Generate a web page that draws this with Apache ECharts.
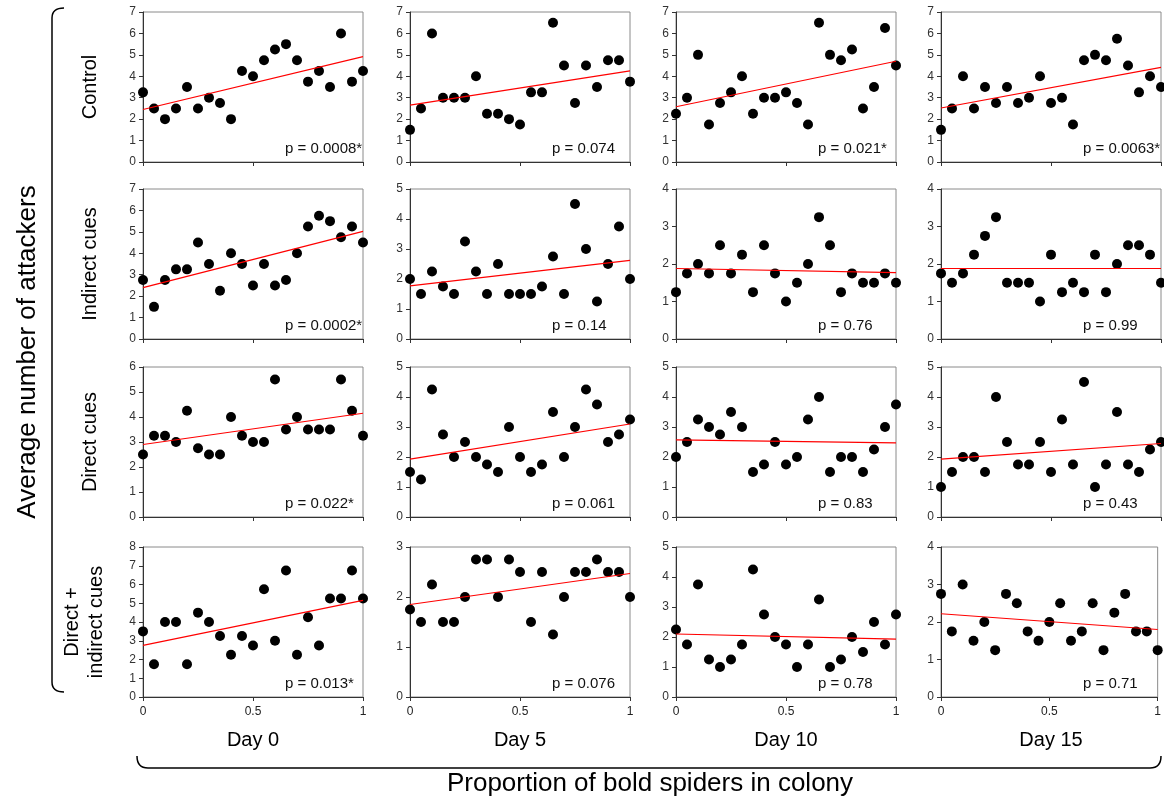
<!DOCTYPE html>
<html>
<head>
<meta charset="utf-8">
<script src="https://cdn.jsdelivr.net/npm/echarts@6/dist/echarts.min.js"></script>
<style>
  html, body { margin: 0; background: #fff; }
  #chart { width: 1164px; height: 804px; }
</style>
</head>
<body>
<div id="chart"></div>
<script>
// proportion of bold spiders (x) for every colony
const proportions = [0, 0.05, 0.1, 0.15, 0.2, 0.25, 0.3, 0.35, 0.4, 0.45, 0.5, 0.55, 0.6, 0.65, 0.7, 0.75, 0.8, 0.85, 0.9, 0.95, 1]
const days = ['Day 0', 'Day 5', 'Day 10', 'Day 15']
const treatments = ['Control', 'Indirect cues', 'Direct cues', 'Direct +\nindirect cues']
const xTicks = ['0', '0.5', '1']

// average number of attackers, one array per panel
const ctrl0 = [3.25, 2.5, 2, 2.5, 3.5, 2.5, 3, 2.75, 2, 4.25, 4, 4.75, 5.25, 5.5, 4.75, 3.75, 4.25, 3.5, 6, 3.75, 4.25]
const ctrl5 = [1.5, 2.5, 6, 3, 3, 3, 4, 2.25, 2.25, 2, 1.75, 3.25, 3.25, 6.5, 4.5, 2.75, 4.5, 3.5, 4.75, 4.75, 3.75]
const ctrl10 = [2.25, 3, 5, 1.75, 2.75, 3.25, 4, 2.25, 3, 3, 3.25, 2.75, 1.75, 6.5, 5, 4.75, 5.25, 2.5, 3.5, 6.25, 4.5]
const ctrl15 = [1.5, 2.5, 4, 2.5, 3.5, 2.75, 3.5, 2.75, 3, 4, 2.75, 3, 1.75, 4.75, 5, 4.75, 5.75, 4.5, 3.25, 4, 3.5]
const ind0 = [2.75, 1.5, 2.75, 3.25, 3.25, 4.5, 3.5, 2.25, 4, 3.5, 2.5, 3.5, 2.5, 2.75, 4, 5.25, 5.75, 5.5, 4.75, 5.25, 4.5]
const ind5 = [2, 1.5, 2.25, 1.75, 1.5, 3.25, 2.25, 1.5, 2.5, 1.5, 1.5, 1.5, 1.75, 2.75, 1.5, 4.5, 3, 1.25, 2.5, 3.75, 2]
const ind10 = [1.25, 1.75, 2, 1.75, 2.5, 1.75, 2.25, 1.25, 2.5, 1.75, 1, 1.5, 2, 3.25, 2.5, 1.25, 1.75, 1.5, 1.5, 1.75, 1.5]
const ind15 = [1.75, 1.5, 1.75, 2.25, 2.75, 3.25, 1.5, 1.5, 1.5, 1, 2.25, 1.25, 1.5, 1.25, 2.25, 1.25, 2, 2.5, 2.5, 2.25, 1.5]
const dir0 = [2.5, 3.25, 3.25, 3, 4.25, 2.75, 2.5, 2.5, 4, 3.25, 3, 3, 5.5, 3.5, 4, 3.5, 3.5, 3.5, 5.5, 4.25, 3.25]
const dir5 = [1.5, 1.25, 4.25, 2.75, 2, 2.5, 2, 1.75, 1.5, 3, 2, 1.5, 1.75, 3.5, 2, 3, 4.25, 3.75, 2.5, 2.75, 3.25]
const dir10 = [2, 2.5, 3.25, 3, 2.75, 3.5, 3, 1.5, 1.75, 2.5, 1.75, 2, 3.25, 4, 1.5, 2, 2, 1.5, 2.25, 3, 3.75]
const dir15 = [1, 1.5, 2, 2, 1.5, 4, 2.5, 1.75, 1.75, 2.5, 1.5, 3.25, 1.75, 4.5, 1, 1.75, 3.5, 1.75, 1.5, 2.25, 2.5]
const both0 = [3.5, 1.75, 4, 4, 1.75, 4.5, 4, 3.25, 2.25, 3.25, 2.75, 5.75, 3, 6.75, 2.25, 4.25, 2.75, 5.25, 5.25, 6.75, 5.25]
const both5 = [1.75, 1.5, 2.25, 1.5, 1.5, 2, 2.75, 2.75, 2, 2.75, 2.5, 1.5, 2.5, 1.25, 2, 2.5, 2.5, 2.75, 2.5, 2.5, 2]
const both10 = [2.25, 1.75, 3.75, 1.25, 1, 1.25, 1.75, 4.25, 2.75, 2, 1.75, 1, 1.75, 3.25, 1, 1.25, 2, 1.5, 2.5, 1.75, 2.75]
const both15 = [2.75, 1.75, 3, 1.5, 2, 1.25, 2.75, 2.5, 1.75, 1.5, 2, 2.5, 1.5, 1.75, 2.5, 1.25, 2.25, 2.75, 1.75, 1.75, 1.25]

const panels = [
  [ctrl0, ctrl5, ctrl10, ctrl15],
  [ind0, ind5, ind10, ind15],
  [dir0, dir5, dir10, dir15],
  [both0, both5, both10, both15]
]

// fitted line values at x = 0 and x = 1
const trendCtrl = [[2.45, 4.92], [2.65, 4.25], [2.58, 4.7], [2.52, 4.42]]
const trendInd = [[2.4, 5.02], [1.77, 2.62], [1.88, 1.77], [1.88, 1.88]]
const trendDir = [[2.9, 4.15], [1.93, 3.1], [2.57, 2.47], [1.93, 2.45]]
const trendBoth = [[2.75, 5.15], [1.85, 2.47], [2.1, 1.93], [2.22, 1.8]]
const trends = [trendCtrl, trendInd, trendDir, trendBoth]

const yMax = [[7, 7, 7, 7], [7, 5, 4, 4], [6, 5, 5, 5], [8, 3, 5, 4]]

const pValues = [
  ['p = 0.0008*', 'p = 0.074', 'p = 0.021*', 'p = 0.0063*'],
  ['p = 0.0002*', 'p = 0.14', 'p = 0.76', 'p = 0.99'],
  ['p = 0.022*', 'p = 0.061', 'p = 0.83', 'p = 0.43'],
  ['p = 0.013*', 'p = 0.076', 'p = 0.78', 'p = 0.71']
]

// layout
const colLeft = [143, 410, 676, 941]
const rowTop = [12, 189, 367, 547]
const plotW = 220
const plotH = 150
const FONT = '"Liberation Sans", Arial, sans-serif'

const chart = echarts.init(document.getElementById('chart'))

const grid = []
const xAxis = []
const yAxis = []
const series = []
const graphic = []

panels.forEach((row, r) => {
  row.forEach((values, c) => {
    const idx = grid.length
    const lastRow = r === panels.length - 1
    grid.push({
      left: colLeft[c], top: rowTop[r], width: plotW, height: plotH,
      show: true, borderColor: '#8a8a8a', borderWidth: 1, backgroundColor: 'transparent'
    })
    xAxis.push({
      type: 'value', gridIndex: idx, min: 0, max: 1, interval: 0.5,
      axisLine: { show: true, lineStyle: { color: '#333', width: 1 } },
      axisTick: { show: true, length: 4, lineStyle: { color: '#333' } },
      axisLabel: {
        show: lastRow, fontSize: 12, color: '#222', fontFamily: FONT, margin: 9,
        formatter: (v) => xTicks[Math.round(v * 2)]
      },
      splitLine: { show: false }
    })
    yAxis.push({
      type: 'value', gridIndex: idx, min: 0, max: yMax[r][c], interval: 1,
      axisLine: { show: true, lineStyle: { color: '#333', width: 1 } },
      axisTick: { show: true, length: 4, lineStyle: { color: '#333' } },
      axisLabel: { fontSize: 12, color: '#333', fontFamily: FONT, margin: 7 },
      splitLine: { show: false }
    })
    series.push({
      type: 'scatter', xAxisIndex: idx, yAxisIndex: idx,
      symbolSize: 10, itemStyle: { color: '#000', opacity: 1 },
      clip: false, silent: true,
      data: values.map((v, i) => [proportions[i], v])
    })
    series.push({
      type: 'line', xAxisIndex: idx, yAxisIndex: idx,
      symbol: 'none', silent: true, z: 3,
      lineStyle: { color: '#ff0000', width: 1.2 },
      data: [[0, trends[r][c][0]], [1, trends[r][c][1]]]
    })
    graphic.push({
      type: 'text', left: colLeft[c] + plotW - 78, top: rowTop[r] + plotH - 21,
      style: { text: pValues[r][c], font: '15px ' + FONT, fill: '#111' }
    })
  })
})

// row labels (rotated)
const rowLabelX = [90, 90, 90, 84]
treatments.forEach((t, r) => {
  graphic.push({
    type: 'text', x: rowLabelX[r], y: rowTop[r] + plotH / 2, rotation: Math.PI / 2,
    style: {
      text: t, font: '20px ' + FONT, fill: '#000',
      textAlign: 'center', textVerticalAlign: 'middle', lineHeight: 24
    }
  })
})

// day labels
days.forEach((d, c) => {
  graphic.push({
    type: 'text', x: colLeft[c] + plotW / 2, y: 740,
    style: { text: d, font: '20px ' + FONT, fill: '#000', textAlign: 'center', textVerticalAlign: 'middle' }
  })
})

// axis titles
graphic.push({
  type: 'text', x: 28, y: 352, rotation: Math.PI / 2,
  style: { text: 'Average number of attackers', font: '26px ' + FONT, fill: '#000', textAlign: 'center', textVerticalAlign: 'middle' }
})
graphic.push({
  type: 'text', x: 650, y: 784,
  style: { text: 'Proportion of bold spiders in colony', font: '26px ' + FONT, fill: '#000', textAlign: 'center', textVerticalAlign: 'middle' }
})

// brackets
const br = { stroke: '#000', lineWidth: 1.5, fill: null }
// left bracket
graphic.push(
  { type: 'bezierCurve', shape: { x1: 64, y1: 8, cpx1: 52, cpy1: 8, x2: 52, y2: 18 }, style: br },
  { type: 'line', shape: { x1: 52, y1: 18, x2: 52, y2: 682 }, style: br },
  { type: 'bezierCurve', shape: { x1: 52, y1: 682, cpx1: 52, cpy1: 692, x2: 64, y2: 692 }, style: br }
)
// bottom bracket
graphic.push(
  { type: 'bezierCurve', shape: { x1: 137, y1: 756, cpx1: 137, cpy1: 768, x2: 148, y2: 768 }, style: br },
  { type: 'line', shape: { x1: 148, y1: 768, x2: 1150, y2: 768 }, style: br },
  { type: 'bezierCurve', shape: { x1: 1150, y1: 768, cpx1: 1161, cpy1: 768, x2: 1161, y2: 756 }, style: br }
)

chart.setOption({
  animation: false,
  backgroundColor: '#fff',
  grid, xAxis, yAxis, series, graphic
})
</script>
</body>
</html>
